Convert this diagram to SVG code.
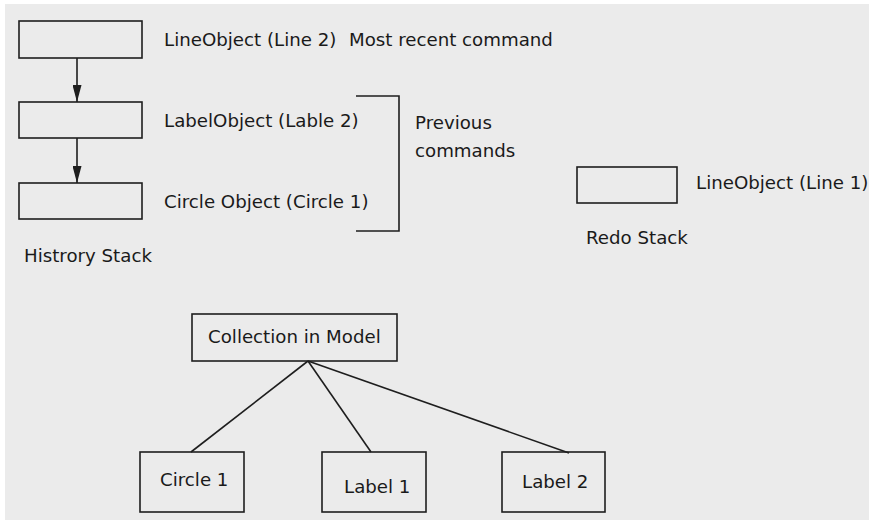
<svg xmlns="http://www.w3.org/2000/svg" width="869" height="520" viewBox="0 0 869 520">
<defs>
<style>
text{font-family:"DejaVu Sans","Liberation Sans",sans-serif;font-size:18.2px;fill:#1a1a1a}
.box{fill:none;stroke:#1e1e1e;stroke-width:1.6}
.ln{fill:none;stroke:#1e1e1e;stroke-width:1.6}
</style>
<marker id="ah" markerWidth="17" markerHeight="9" refX="17" refY="4.5" orient="auto" markerUnits="userSpaceOnUse" viewBox="0 0 17 9">
<path d="M0,0 L17,4.5 L0,9 Z" fill="#1e1e1e"/>
</marker>
</defs>
<rect x="0" y="0" width="869" height="520" fill="#ffffff"/>
<rect x="5" y="4" width="864" height="516" fill="#ebebeb"/>
<g id="connectors">
<line class="ln" x1="77" y1="58" x2="77" y2="102" marker-end="url(#ah)"/>
<line class="ln" x1="77" y1="138" x2="77" y2="183" marker-end="url(#ah)"/>
<polyline class="ln" points="356,96 399,96 399,231 356,231"/>
<line class="ln" x1="308" y1="361" x2="191" y2="452"/>
<line class="ln" x1="308" y1="361" x2="371" y2="452"/>
<line class="ln" x1="308" y1="361" x2="569" y2="453"/>
</g>
<g id="hist1"><rect class="box" x="19" y="21" width="123" height="37"/></g>
<g id="hist2"><rect class="box" x="19" y="102" width="123" height="36"/></g>
<g id="hist3"><rect class="box" x="19" y="183" width="123" height="36"/></g>
<g id="labels">
<text x="164" y="46">LineObject (Line 2)</text>
<text x="349" y="46">Most recent command</text>
<text x="164" y="127">LabelObject (Lable 2)</text>
<text x="164" y="208">Circle Object (Circle 1)</text>
<text x="24" y="262">Histrory Stack</text>
<text x="415" y="129">Previous</text>
<text x="415" y="157">commands</text>
<text x="696" y="189">LineObject (Line 1)</text>
<text x="586" y="244">Redo Stack</text>
</g>
<g id="redo"><rect class="box" x="577" y="167" width="100" height="36"/></g>
<g id="collection"><rect class="box" x="192" y="314" width="205" height="47"/><text x="208" y="343">Collection in Model</text></g>
<g id="circle1"><rect class="box" x="140" y="452" width="104" height="60"/><text x="160" y="486">Circle 1</text></g>
<g id="label1"><rect class="box" x="322" y="452" width="104" height="60"/><text x="344" y="493">Label 1</text></g>
<g id="label2"><rect class="box" x="502" y="452" width="103" height="60"/><text x="522" y="488">Label 2</text></g>
</svg>
